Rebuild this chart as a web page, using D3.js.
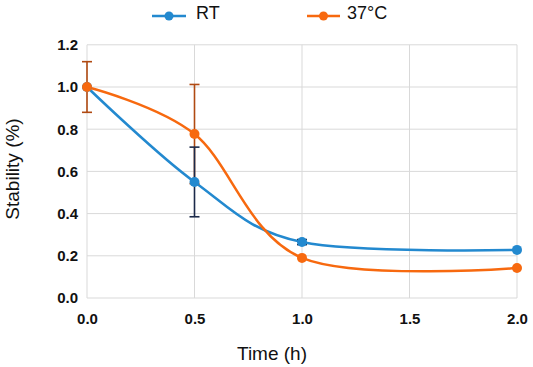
<!DOCTYPE html>
<html><head><meta charset="utf-8">
<script src="https://cdn.jsdelivr.net/npm/d3@7"></script>
<style>body{margin:0;background:#fff}svg{display:block}</style>
</head><body>
<svg id="c" width="533" height="367"></svg>
<script>
const times = [0, 0.5, 1.0, 2.0];
const rtValues = [1.0, 0.55, 0.265, 0.228];
const rtErrors = [0, 0.165, 0.012, 0];
const t37Values = [1.0, 0.777, 0.19, 0.142];
const t37Errors = [0.12, 0.235, 0, 0];
const xTicks = [0, 0.5, 1.0, 1.5, 2.0];
const yTicks = [0, 0.2, 0.4, 0.6, 0.8, 1.0, 1.2];
const seriesNames = ["RT", "37°C"];
const colors = ["#2389cf", "#f7690f"];
const errColors = ["#1b2a4a", "#b04a12"];

const svg = d3.select("#c");
const x = d3.scaleLinear().domain([0, 2]).range([87, 517]);
const y = d3.scaleLinear().domain([0, 1.2]).range([298, 44.8]);
const font = "'Liberation Sans', Arial, sans-serif";

// grid
svg.append("g").selectAll("line").data(yTicks).join("line")
  .attr("x1", x(0)).attr("x2", x(2)).attr("y1", d => y(d)).attr("y2", d => y(d))
  .attr("stroke", "#d9d9d9").attr("stroke-width", 1);
svg.append("g").selectAll("line").data(xTicks).join("line")
  .attr("y1", y(0)).attr("y2", y(1.2)).attr("x1", d => x(d)).attr("x2", d => x(d))
  .attr("stroke", "#d9d9d9").attr("stroke-width", 1);

// axes labels via d3 axes
const xAxis = svg.append("g").attr("transform", `translate(0,${y(0)})`)
  .call(d3.axisBottom(x).tickValues(xTicks).tickFormat(d3.format(".1f")).tickSize(0).tickPadding(15));
xAxis.select(".domain").remove();
xAxis.selectAll("text").attr("font-family", font).attr("font-size", 15).attr("font-weight", "bold").attr("fill", "#111");
const yAxis = svg.append("g").attr("transform", `translate(${x(0)},0)`)
  .call(d3.axisLeft(y).tickValues(yTicks).tickFormat(d3.format(".1f")).tickSize(0).tickPadding(9));
yAxis.select(".domain").remove();
yAxis.selectAll("text").attr("font-family", font).attr("font-size", 15).attr("font-weight", "bold").attr("fill", "#111");

svg.append("text").attr("x", 272).attr("y", 360).attr("text-anchor", "middle")
  .attr("font-family", font).attr("font-size", 19).attr("fill", "#111").text("Time (h)");
svg.append("text").attr("transform", "translate(19,169) rotate(-90)").attr("text-anchor", "middle")
  .attr("font-family", font).attr("font-size", 19).attr("fill", "#111").text("Stability (%)");

const series = [
  {vals: rtValues, errs: rtErrors},
  {vals: t37Values, errs: t37Errors}
];
const line = d3.line().x(d => x(d[0])).y(d => y(d[1])).curve(d3.curveCardinal.tension(0));

// lines
series.forEach((s, i) => {
  svg.append("path").datum(times.map((t, j) => [t, s.vals[j]]))
    .attr("d", line).attr("fill", "none").attr("stroke", colors[i]).attr("stroke-width", 2.5);
});
// error bars: 37 first then RT
[1, 0].forEach(i => {
  const s = series[i];
  const g = svg.append("g").attr("stroke", errColors[i]).attr("stroke-width", 1.6);
  times.forEach((t, j) => {
    const e = s.errs[j];
    if (!e) return;
    const cx = x(t), y1 = y(s.vals[j] + e), y2 = y(s.vals[j] - e);
    g.append("line").attr("x1", cx).attr("x2", cx).attr("y1", y1).attr("y2", y2);
    g.append("line").attr("x1", cx - 5).attr("x2", cx + 5).attr("y1", y1).attr("y2", y1);
    g.append("line").attr("x1", cx - 5).attr("x2", cx + 5).attr("y1", y2).attr("y2", y2);
  });
});
// markers
series.forEach((s, i) => {
  svg.append("g").selectAll("circle").data(times.map((t, j) => [t, s.vals[j]])).join("circle")
    .attr("cx", d => x(d[0])).attr("cy", d => y(d[1])).attr("r", 5).attr("fill", colors[i]);
});
// legend
const leg = [{x1: 152, x2: 186, tx: 196}, {x1: 307, x2: 340, tx: 347}];
leg.forEach((l, i) => {
  svg.append("line").attr("x1", l.x1).attr("x2", l.x2).attr("y1", 16).attr("y2", 16)
    .attr("stroke", colors[i]).attr("stroke-width", 2.5);
  svg.append("circle").attr("cx", (l.x1 + l.x2) / 2).attr("cy", 16).attr("r", 4.5).attr("fill", colors[i]);
  svg.append("text").attr("x", l.tx).attr("y", 18.5).attr("font-family", font).attr("font-size", 18)
    .attr("fill", "#111").text(seriesNames[i]);
});
</script>
</body></html>
